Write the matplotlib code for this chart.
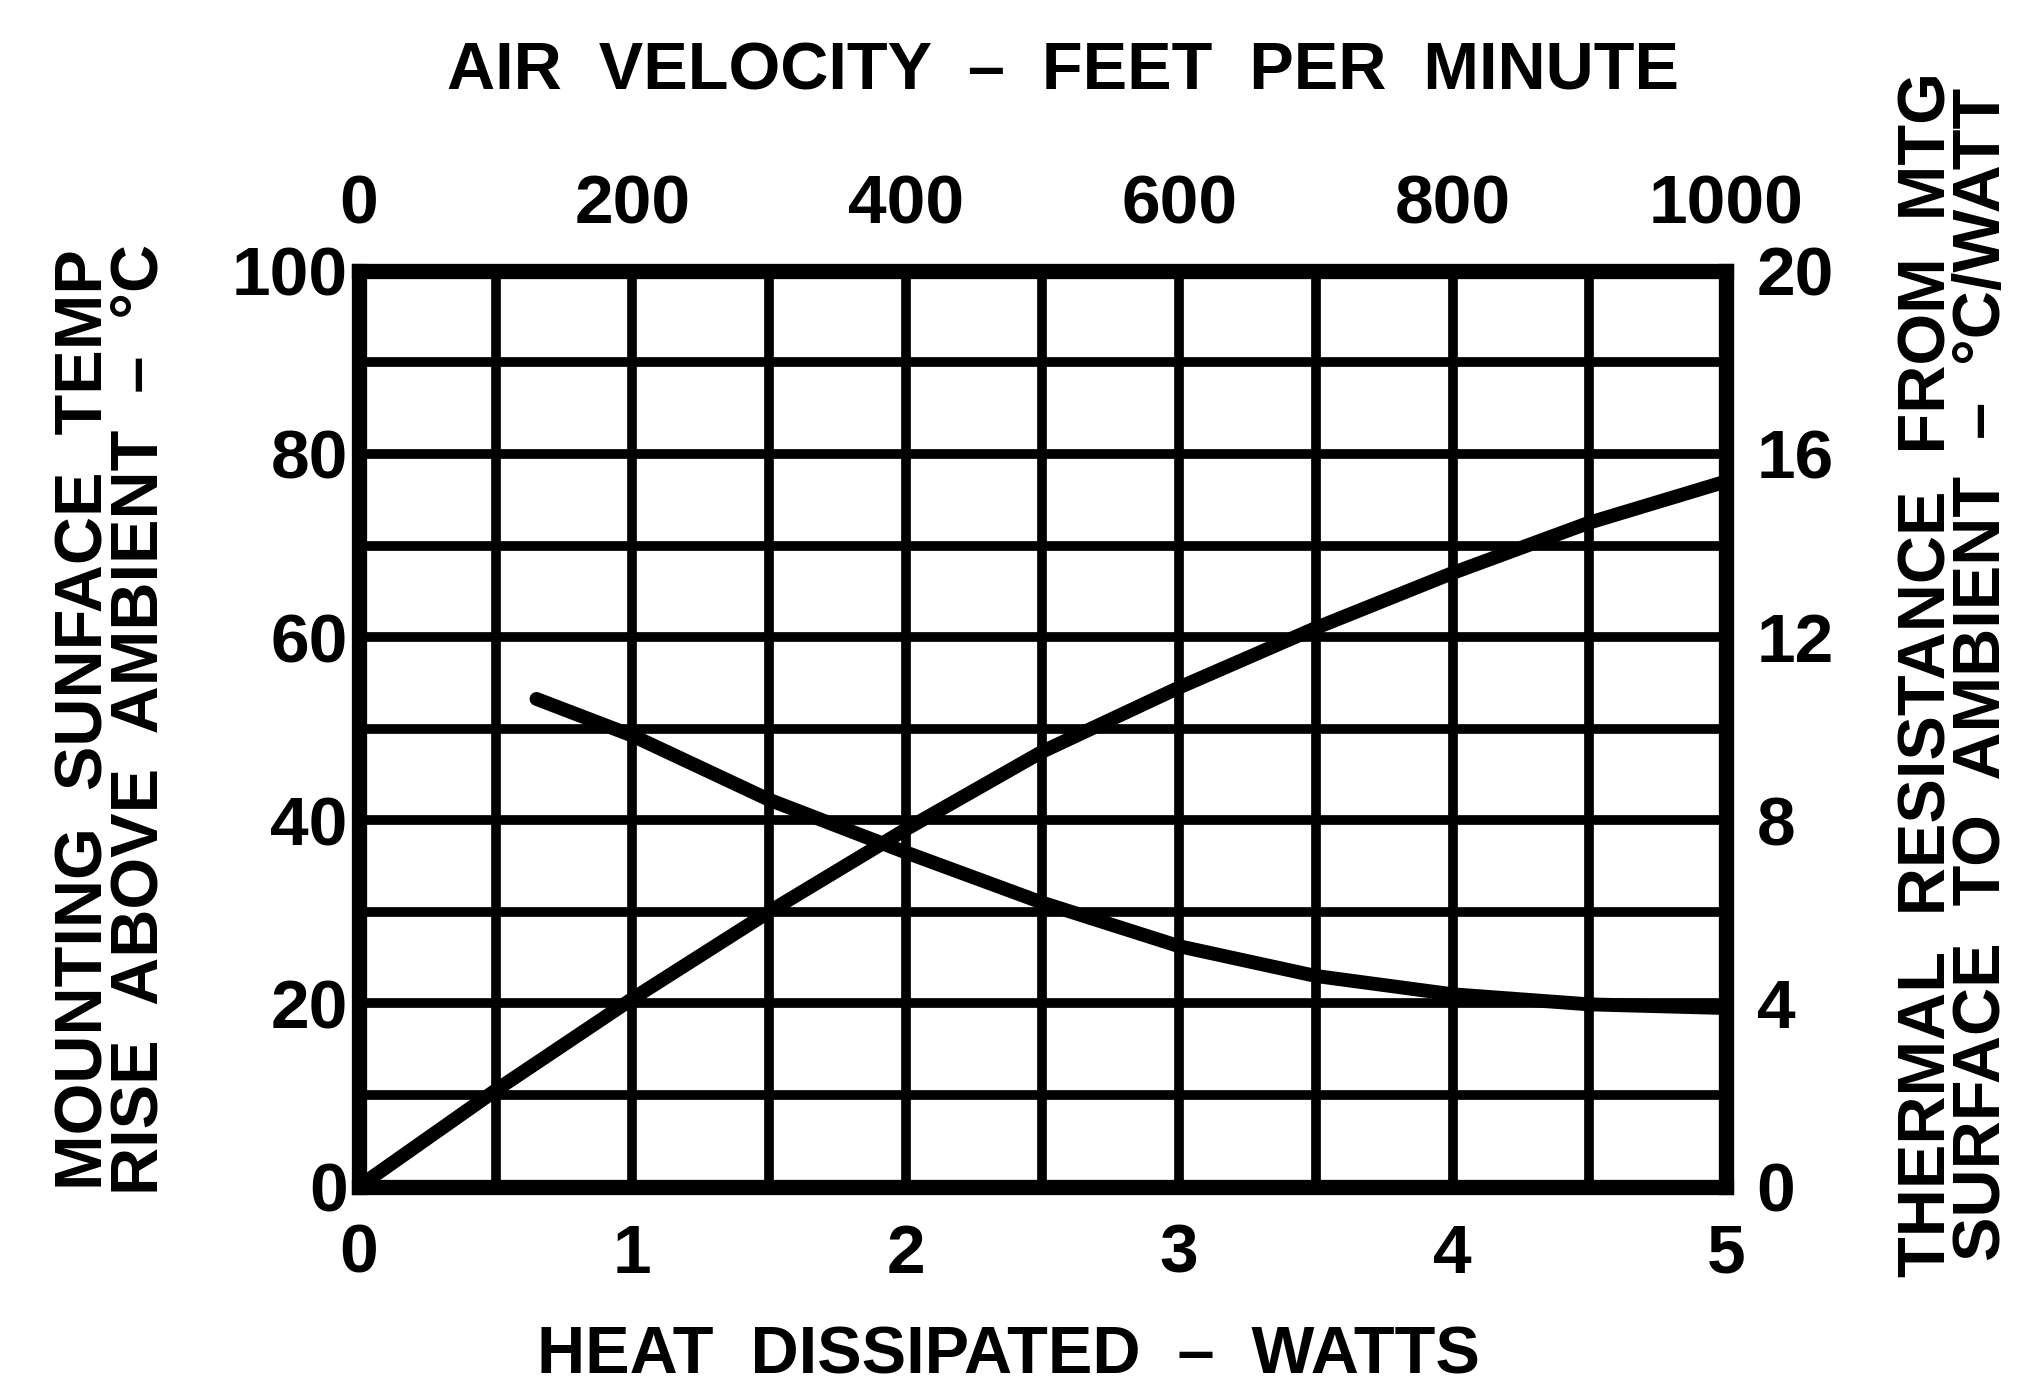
import matplotlib
matplotlib.use('Agg')
import matplotlib.pyplot as plt

# rising curve: temperature rise vs heat dissipated (bottom / left axes)
heat_w = [0, 0.5, 1.0, 1.5, 2.0, 2.5, 3.0, 3.5, 4.0, 4.5, 5.0]
temp_rise_c = [0, 10.5, 20.5, 30, 39, 47.5, 54.5, 61, 67, 72.5, 77]

# falling curve: thermal resistance vs air velocity (top / right axes)
air_fpm = [130, 200, 300, 400, 500, 600, 700, 800, 900, 1000]
resist_cw = [10.65, 9.85, 8.45, 7.3, 6.2, 5.25, 4.6, 4.2, 3.98, 3.9]

x_ticks = [0, 1, 2, 3, 4, 5]
y_ticks = [0, 20, 40, 60, 80, 100]
top_ticks = [0, 200, 400, 600, 800, 1000]
right_ticks = [0, 4, 8, 12, 16, 20]

TICK_FONT = dict(family=['Liberation Sans', 'DejaVu Sans'], weight='bold', fontsize=50)
LABEL_FONT = dict(family=['Liberation Sans', 'DejaVu Sans'], weight='bold', fontsize=48)

fig = plt.figure(figsize=(20.27, 13.96), dpi=100)
ax = fig.add_axes([0.177, 0.150, 0.6745, 0.656])

ax.set_xlim(0, 5)
ax.set_ylim(0, 100)
ax.set_xticks([i * 0.5 for i in range(11)], minor=True)
ax.set_yticks(range(0, 101, 10), minor=True)
ax.set_xticks(x_ticks)
ax.set_yticks(y_ticks)
ax.grid(True, which='both', color='black', linewidth=7)
ax.set_axisbelow(True)
ax.set_xticklabels([str(v) for v in x_ticks], **TICK_FONT)
ax.set_yticklabels([str(v) for v in y_ticks], **TICK_FONT)
ax.tick_params(axis='x', which='both', length=0, pad=26)
ax.tick_params(axis='y', which='both', length=0, pad=8)
for s in ax.spines.values():
    s.set_linewidth(11)

ax.plot(heat_w, temp_rise_c, color='black', linewidth=10, solid_capstyle='round', zorder=3)

# twin axes for the air velocity / thermal resistance curve
axt = ax.twiny()
axt.set_xlim(0, 1000)
axt.set_xticks(top_ticks)
axt.set_xticklabels([str(v) for v in top_ticks], **TICK_FONT)
axt.tick_params(length=0, pad=24)
axr = axt.twinx()
axr.set_ylim(0, 20)
axr.set_yticks(right_ticks)
axr.set_yticklabels([str(v) for v in right_ticks], **TICK_FONT)
axr.tick_params(length=0, pad=22)
for a in (axt, axr):
    for s in a.spines.values():
        s.set_visible(False)

axr.plot(air_fpm, resist_cw, color='black', linewidth=10, solid_capstyle='round', zorder=3)

ax.set_xlabel('HEAT  DISSIPATED  –  WATTS', va='center', **LABEL_FONT)
ax.xaxis.set_label_coords(0.475, -0.186)
ax.set_ylabel('MOUNTING  SUNFACE  TEMP\nRISE  ABOVE  AMBIENT  –  °C', va='center',
              linespacing=0.85, **LABEL_FONT)
ax.yaxis.set_label_coords(-0.18, 0.51)
axt.set_xlabel('AIR  VELOCITY  –  FEET  PER  MINUTE', va='center', **LABEL_FONT)
axt.xaxis.set_label_coords(0.515, 1.217)
axr.set_ylabel('THERMAL  RESISTANCE  FROM  MTG\nSURFACE  TO  AMBIENT  –  °C/WATT', va='center',
               linespacing=0.85, rotation=90, **LABEL_FONT)
axr.yaxis.set_label_coords(1.168, 0.559)

fig.savefig('out.png', dpi=100)
